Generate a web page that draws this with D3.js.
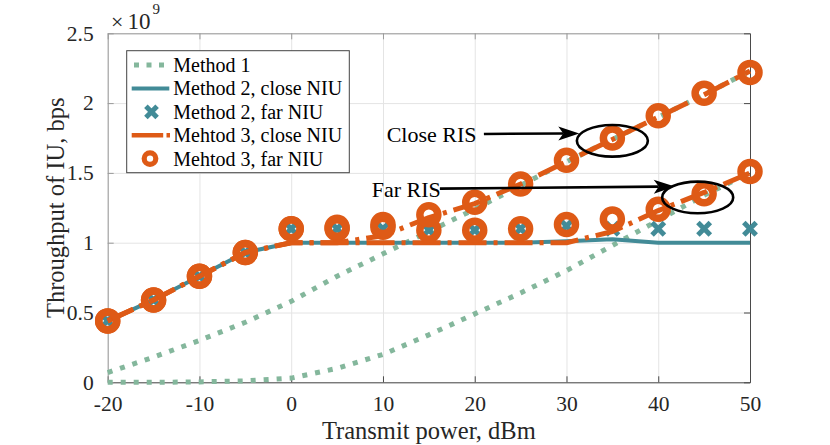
<!DOCTYPE html>
<html><head><meta charset="utf-8">
<script src="https://cdn.jsdelivr.net/npm/d3@7"></script>
<style>
html,body{margin:0;padding:0;background:#fff;}
svg{display:block;font-family:"Liberation Serif","Times New Roman",serif;}
</style></head>
<body><svg id="c" width="830" height="445"></svg>
<script>
// ---- data (throughput in units of 1e9 bps) ----
const power = [-20,-15,-10,-5,0,5,10,15,20,25,30,35,40,45,50];
const xTicks = [-20,-10,0,10,20,30,40,50];
const yTicks = [0,0.5,1,1.5,2,2.5];
const method1CloseRIS = [0.07,0.18,0.30,0.43,0.58,0.76,0.92,1.08,1.24,1.41,1.58,1.74,1.90,2.06,2.23];
const method1FarRIS   = [0.0,0.0,0.003,0.01,0.03,0.10,0.20,0.34,0.49,0.64,0.80,0.98,1.16,1.34,1.50];
const method2CloseNIU = [0.44,0.59,0.76,0.93,1.0,1.0,1.0,1.0,1.0,1.0,1.01,1.025,1.0,1.0,1.0];
const method2FarNIU   = [0.44,0.59,0.76,0.93,1.10,1.10,1.10,1.09,1.09,1.10,1.12,1.10,1.10,1.10,1.10];
const method3CloseNIU_closeRIS = [0.44,0.59,0.76,0.93,1.0,1.0,1.05,1.18,1.28,1.42,1.58,1.74,1.90,2.06,2.23];
const method3FarNIU_closeRIS   = [0.44,0.59,0.76,0.93,1.10,1.11,1.13,1.20,1.29,1.42,1.59,1.75,1.91,2.07,2.22];
const method3CloseNIU_farRIS   = [0.44,0.59,0.76,0.93,1.0,1.0,1.0,1.0,1.0,1.0,1.0,1.08,1.23,1.36,1.50];
const method3FarNIU_farRIS     = [0.44,0.59,0.76,0.93,1.10,1.10,1.11,1.09,1.09,1.10,1.13,1.17,1.24,1.35,1.51];
const legendLabels = ["Method 1","Method 2, close NIU","Method 2, far NIU","Mehtod 3, close NIU","Mehtod 3, far NIU"];
// annotations (data coords)
const annClose = {text:"Close RIS", tx:10.4, ty:1.72, from:[21.0,1.779], to:[31.4,1.783], cx:35.0, cy:1.73};
const annFar   = {text:"Far RIS",   tx:8.77, ty:1.325, from:[16.2,1.387], to:[41.8,1.403], cx:44.3, cy:1.324};

// ---- styles ----
const C1 = "#84b79c", C2 = "#428b97", C3 = "#de5a16", TXT = "#262626";
const L = 107.7, R = 750, T = 33.3, B = 382.3;

const svg = d3.select("#c");
const x = d3.scaleLinear().domain([-20,50]).range([L,R]);
const y = d3.scaleLinear().domain([0,2.5]).range([B,T]);
const fmt = d => String(d);

// grid
const grid = svg.append("g");
grid.append("g").attr("transform",`translate(0,${B})`)
  .call(d3.axisBottom(x).tickValues(xTicks).tickSize(-(B-T)).tickFormat(""))
  .call(g=>{g.select(".domain").remove(); g.selectAll("line").attr("stroke","#e4e4e4").attr("stroke-width",1);});
grid.append("g").attr("transform",`translate(${L},0)`)
  .call(d3.axisLeft(y).tickValues(yTicks).tickSize(-(R-L)).tickFormat(""))
  .call(g=>{g.select(".domain").remove(); g.selectAll("line").attr("stroke","#e4e4e4").attr("stroke-width",1);});

// axes
function styleAxis(g, col){
  g.select(".domain").attr("stroke",col).attr("stroke-width",1);
  g.selectAll(".tick line").attr("stroke",col);
  g.selectAll(".tick text").attr("fill",TXT).attr("font-size",21.5).attr("font-family","Liberation Serif");
}
svg.append("g").attr("transform",`translate(0,${B})`)
  .call(d3.axisBottom(x).tickValues(xTicks).tickSizeInner(-6).tickSizeOuter(0).tickPadding(13).tickFormat(fmt))
  .call(g=>styleAxis(g,"#4a4a4a"));
svg.append("g").attr("transform",`translate(0,${T})`)
  .call(d3.axisTop(x).tickValues(xTicks).tickSizeInner(-6).tickSizeOuter(0).tickFormat(""))
  .call(g=>styleAxis(g,"#9a9a9a"));
svg.append("g").attr("transform",`translate(${L},0)`)
  .call(d3.axisLeft(y).tickValues(yTicks).tickSizeInner(-6).tickSizeOuter(0).tickPadding(14).tickFormat(fmt))
  .call(g=>styleAxis(g,"#9a9a9a"));
svg.append("g").attr("transform",`translate(${R},0)`)
  .call(d3.axisRight(y).tickValues(yTicks).tickSizeInner(-6).tickSizeOuter(0).tickFormat(""))
  .call(g=>styleAxis(g,"#4a4a4a"));

// labels
svg.append("text").attr("x",(L+R)/2).attr("y",439).attr("text-anchor","middle")
  .attr("font-size",24.5).attr("fill",TXT).text("Transmit power, dBm");
svg.append("text").attr("transform",`translate(64,${(T+B)/2}) rotate(-90)`).attr("text-anchor","middle")
  .attr("font-size",24.5).attr("fill",TXT).text("Throughput of IU, bps");
const ex = svg.append("g").attr("fill",TXT);
ex.append("text").attr("x",111).attr("y",28.5).attr("font-size",22).text("×");
ex.append("text").attr("x",127.5).attr("y",28.5).attr("font-size",23).text("10");
ex.append("text").attr("x",152.5).attr("y",14).attr("font-size",15).text("9");

// lines
const line = d3.line().x((d,i)=>x(power[i])).y(d=>y(d));
const plot = svg.append("g");
function drawLine(data, col, w, dash){
  plot.append("path").datum(data).attr("d",line).attr("fill","none")
    .attr("stroke",col).attr("stroke-width",w).attr("stroke-dasharray",dash||null)
    .attr("stroke-linejoin","round");
}
drawLine(method1CloseRIS, C1, 5, "5,8");
drawLine(method1FarRIS, C1, 5, "5,8");
drawLine(method2CloseNIU, C2, 4, null);
// X markers
const xs = 6.2;
plot.selectAll(".xm").data(method2FarNIU).join("path").attr("class","xm")
  .attr("d",(d,i)=>{const cx=x(power[i]), cy=y(d); return `M${cx-xs},${cy-xs}L${cx+xs},${cy+xs}M${cx-xs},${cy+xs}L${cx+xs},${cy-xs}`;})
  .attr("stroke",C2).attr("stroke-width",5).attr("fill","none");
drawLine(method3CloseNIU_farRIS, C3, 5, "28,7,4,7");
drawLine(method3CloseNIU_closeRIS, C3, 5, "28,7,4,7");
// circles
[method3FarNIU_farRIS, method3FarNIU_closeRIS].forEach(arr=>{
  plot.append("g").selectAll("circle").data(arr).join("circle")
    .attr("cx",(d,i)=>x(power[i])).attr("cy",d=>y(d)).attr("r",9)
    .attr("fill","none").attr("stroke",C3).attr("stroke-width",7.5);
});

// annotations
function annotate(a){
  const g = svg.append("g");
  g.append("text").attr("x",x(a.tx)).attr("y",y(a.ty)).attr("font-size",22).attr("fill","#000").text(a.text);
  const x0=x(a.from[0]), y0=y(a.from[1]), x1=x(a.to[0]), y1=y(a.to[1]);
  const ang = Math.atan2(y1-y0,x1-x0), len=21, hw=7, notch=16;
  const bx = x1 - len*Math.cos(ang), by = y1 - len*Math.sin(ang);
  const nx = x1 - notch*Math.cos(ang), ny = y1 - notch*Math.sin(ang);
  g.append("line").attr("x1",x0).attr("y1",y0).attr("x2",nx).attr("y2",ny).attr("stroke","#000").attr("stroke-width",2.6);
  const px = -Math.sin(ang)*hw, py = Math.cos(ang)*hw;
  g.append("path").attr("d",`M${x1},${y1}L${bx+px},${by+py}L${nx},${ny}L${bx-px},${by-py}Z`).attr("fill","#000");
  g.append("ellipse").attr("cx",x(a.cx)).attr("cy",y(a.cy)).attr("rx",35.5).attr("ry",15.8)
    .attr("fill","none").attr("stroke","#000").attr("stroke-width",2.6);
}
annotate(annClose); annotate(annFar);

// legend
const lg = svg.append("g");
lg.append("rect").attr("x",126.7).attr("y",50.7).attr("width",222.6).attr("height",122)
  .attr("fill","#fff").attr("stroke","#444").attr("stroke-width",1);
const rowY = i => 65 + i*23.4;
legendLabels.forEach((t,i)=>{
  lg.append("text").attr("x",173.3).attr("y",rowY(i)+7).attr("font-size",20).attr("fill","#000").text(t);
});
lg.append("line").attr("x1",134).attr("x2",166).attr("y1",rowY(0)).attr("y2",rowY(0))
  .attr("stroke",C1).attr("stroke-width",5).attr("stroke-dasharray","5,7.5");
lg.append("line").attr("x1",131.7).attr("x2",169.3).attr("y1",rowY(1)).attr("y2",rowY(1))
  .attr("stroke",C2).attr("stroke-width",4);
{const cx=151.5, cy=rowY(2), s=5.6;
 lg.append("path").attr("d",`M${cx-s},${cy-s}L${cx+s},${cy+s}M${cx-s},${cy+s}L${cx+s},${cy-s}`)
  .attr("stroke",C2).attr("stroke-width",5).attr("fill","none");}
lg.append("line").attr("x1",131.7).attr("x2",170).attr("y1",rowY(3)).attr("y2",rowY(3))
  .attr("stroke",C3).attr("stroke-width",4.5).attr("stroke-dasharray","31.5,3.3,3.5,10");
lg.append("circle").attr("cx",150).attr("cy",rowY(4)).attr("r",5.8)
  .attr("fill","none").attr("stroke",C3).attr("stroke-width",5.2);
</script></body></html>
